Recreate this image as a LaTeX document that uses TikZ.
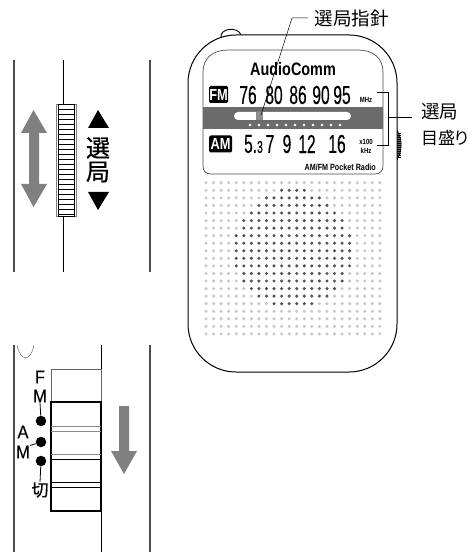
\documentclass[tikz,border=0pt]{standalone}
\usepackage{fontspec}
\setmainfont{Liberation Sans}
\newfontfamily\jpfont{Noto Sans CJK JP}
\newfontfamily\jpmedfont[FakeBold=0.7]{Noto Sans CJK JP}
\newfontfamily\condfont[FakeStretch=0.6,FakeBold=0.3]{Liberation Sans}
\newfontfamily\midfont[FakeStretch=0.8]{Liberation Sans}
\newfontfamily\markfont[FakeStretch=0.9,FakeBold=0.2]{Liberation Sans}
\usetikzlibrary{calc}
\definecolor{arrowgray}{gray}{0.5}
\definecolor{bandgray}{gray}{0.42}
\definecolor{edgegray}{gray}{0.3}
\tikzset{
  jplabel/.style={inner sep=0pt,font=\jpfont\fontsize{18.5}{18.5}\selectfont},
  scaletick/.style={inner sep=0pt,font=\condfont\fontsize{26}{26}\selectfont},
  switchmark/.style={inner sep=0pt,font=\markfont\fontsize{18.5}{18.5}\selectfont},
  bandbox/.style={inner sep=0pt,text=white,fill=black,rounded corners=1.5pt,minimum height=17pt,font=\bfseries\midfont\fontsize{16}{16}\selectfont},
  smallprint/.style={inner sep=0pt,font=\bfseries\midfont\fontsize{7.5}{7.5}\selectfont},
}
\newcommand{\drawHoleRow}[3]{% y, first and last dark column
  \foreach \c in {0,...,23}{
    \pgfmathtruncatemacro{\dark}{and(\c>=#2,\c<=#3)}
    \ifnum\dark=1
      \fill[black!68] (206+7.56*\c,#1) circle (1.7);
    \else
      \fill[black!22] (206+7.56*\c,#1) circle (1.7);
    \fi
  }
}
\newcommand{\drawFrame}[3]{% top, bottom, inner rail x
  \draw[edgegray,line width=1.1pt] (14,#1) -- (14,#2);
  \draw[line width=.6pt] (#3,#1) -- (#3,#2);
  \draw[edgegray,line width=1.1pt] (150,#1) -- (150,#2);
}
\begin{document}
\begin{tikzpicture}[x=1pt,y=-1pt]
\useasboundingbox (0,0) rectangle (470,553);

% Radio body
\draw[line width=.9pt,fill=white] (221,38) .. controls (219,28) and (238,26) .. (241,35);
\draw[line width=.7pt,fill=black!55] (397,130) .. controls (402.5,140) and (402.5,150) .. (397,160);
\foreach \y in {133,135,...,157}
  \draw[line width=.5pt] (397,\y) -- (400.5,\y);
\draw[line width=1pt,fill=white,rounded corners=48pt] (188,35) rectangle (397,372);

% Display
\draw[edgegray,line width=.7pt] (203,72) .. controls (203,58) and (213,50) .. (228,50)
  -- (358,50) .. controls (373,50) and (383,58) .. (383,72)
  -- (383,166) .. controls (383,171) and (380,174) .. (375,174)
  -- (211,174) .. controls (206,174) and (203,171) .. (203,166) -- cycle;
\fill[bandgray] (203,107) rectangle (383,129);
\fill[white,rounded corners=4pt] (234,112) rectangle (351,120);
\fill[black!45] (256,112) rectangle (263,120);
\foreach \i in {0,...,10}
  \fill[white] (250+9*\i,125) circle (1.4);

\node[inner sep=0pt,font=\bfseries\midfont\fontsize{18}{18}\selectfont] (brand) at (293,69) {AudioComm};
\node[bandbox,minimum width=19pt] (fm) at (218.5,94.5) {FM};
\node[bandbox,minimum width=23pt] (am) at (220.5,144) {AM};
\node[scaletick] (f76) at (248,95) {76};
\node[scaletick] (f80) at (274,95) {80};
\node[scaletick] (f86) at (298,95) {86};
\node[scaletick] (f90) at (321,95) {90};
\node[scaletick] (f95) at (342,95) {95};
\node[smallprint] (mhz) at (366,100) {MHz};
\node[scaletick,anchor=east] (a5) at (263,144) {5.{\fontsize{17}{17}\selectfont 3}};
\node[scaletick] (a7) at (270,144) {7};
\node[scaletick] (a9) at (287,144) {9};
\node[scaletick] (a12) at (307,144) {12};
\node[scaletick] (a16) at (337,144) {16};
\node[smallprint] (x100) at (366,142) {x100};
\node[smallprint] (khz) at (366,151) {kHz};
\node[inner sep=0pt,anchor=east,font=\bfseries\midfont\fontsize{9}{9}\selectfont] (model) at (376,167) {AM/FM Pocket Radio};

% Speaker holes
\drawHoleRow{182.7}{99}{99}
\drawHoleRow{190.3}{10}{13}
\drawHoleRow{197.9}{8}{15}
\drawHoleRow{205.4}{7}{16}
\drawHoleRow{213}{6}{17}
\drawHoleRow{220.6}{5}{18}
\drawHoleRow{228.1}{5}{18}
\drawHoleRow{235.7}{4}{19}
\drawHoleRow{243.2}{4}{19}
\drawHoleRow{250.8}{4}{19}
\drawHoleRow{258.3}{4}{19}
\drawHoleRow{265.9}{4}{19}
\drawHoleRow{273.5}{5}{18}
\drawHoleRow{281}{5}{18}
\drawHoleRow{288.6}{6}{17}
\drawHoleRow{296.1}{7}{16}
\drawHoleRow{303.7}{9}{14}
\drawHoleRow{311.3}{99}{99}
\drawHoleRow{318.8}{99}{99}
\drawHoleRow{326.4}{99}{99}
\drawHoleRow{333.9}{99}{99}

% Pointer callout
\node[jplabel,anchor=west] (pointer) at (314.5,18) {選局指針};
\coordinate (needle) at (261,115);
\coordinate (bend) at (292,18);
\coordinate (bendend) at (308,18);
\draw[line width=.5pt] (needle) -- (bend) -- (bendend);

% Scale callout
\node[jplabel,anchor=west] (tuning) at (421,112) {選局};
\node[jplabel,anchor=west,font=\jpfont\fontsize{17}{17}\selectfont] (scale) at (421,138) {目盛\kern-2ptり};
\coordinate (fmend) at (377,92);
\coordinate (fmcorner) at (388,92);
\coordinate (amcorner) at (388,145);
\coordinate (amend) at (377,145);
\coordinate (mid) at (388,117);
\coordinate (midend) at (412,117);
\draw[line width=.5pt] (fmend) -- (fmcorner) -- (amcorner) -- (amend);
\draw[line width=.5pt] (mid) -- (midend);

% Tuning wheel
\drawFrame{60}{272}{63}
\draw[black!50,line width=.7pt,fill=white] (56,104) rectangle (76,216);
\draw[line width=.6pt] (58,104) rectangle (74,216);
\foreach \y in {109,114,...,214}
  \draw[line width=.5pt] (58,\y) -- (74,\y);
\fill[arrowgray] (33.5,110) -- (47,133) -- (39,133) -- (39,184) -- (47,184) -- (33.5,207)
  -- (21,184) -- (29,184) -- (29,133) -- (21,133) -- cycle;
\fill (98,110) -- (109,128) -- (88,128) -- cycle;
\fill (98,210) -- (109,192) -- (88,192) -- cycle;
\node[inner sep=0pt,font=\jpmedfont\fontsize{24}{24}\selectfont] (sen) at (98,148) {選};
\node[inner sep=0pt,font=\jpmedfont\fontsize{24}{24}\selectfont] (kyoku) at (98,172) {局};

% Band switch
\drawFrame{345}{552}{101}
\draw[black!60,line width=.5pt] (17,345) .. controls (20,362) and (31,362) .. (34,345);
\draw[black!60,line width=.6pt] (51,402) -- (51,369) -- (101,369) -- (101,402);
\draw[line width=1.1pt] (51,402) rectangle (101,511);
\draw[black!45,line width=.6pt] (51,426) -- (101,426) (51,431) -- (101,431) (51,454) -- (101,454);
\draw[line width=.5pt] (51,459) -- (101,459) (51,482) -- (101,482) (51,487) -- (101,487);
\fill[arrowgray] (119,406) -- (129,406) -- (129,451) -- (137,451) -- (124,474) -- (111,451)
  -- (119,451) -- cycle;

\node[switchmark] (fmf) at (40,377) {F};
\node[switchmark] (fmm) at (40,396) {M};
\node[switchmark] (ama) at (23,432) {A};
\node[switchmark] (amm) at (23,452) {M};
\node[inner sep=0pt,font=\jpmedfont\fontsize{17}{17}\selectfont] (off) at (40,490) {切};
\node[circle,fill,inner sep=0pt,minimum size=10.5pt] (dotfm) at (41,421) {};
\node[circle,fill,inner sep=0pt,minimum size=10.5pt] (dotam) at (41,442) {};
\node[circle,fill,inner sep=0pt,minimum size=10.5pt] (dotoff) at (41,461) {};
\draw[line width=.8pt] (fmm.south) -- (dotfm);
\draw[line width=.8pt] (amm.north east) -- (dotam);
\draw[line width=.8pt] (dotoff) -- (off.north);
\end{tikzpicture}
\end{document}
